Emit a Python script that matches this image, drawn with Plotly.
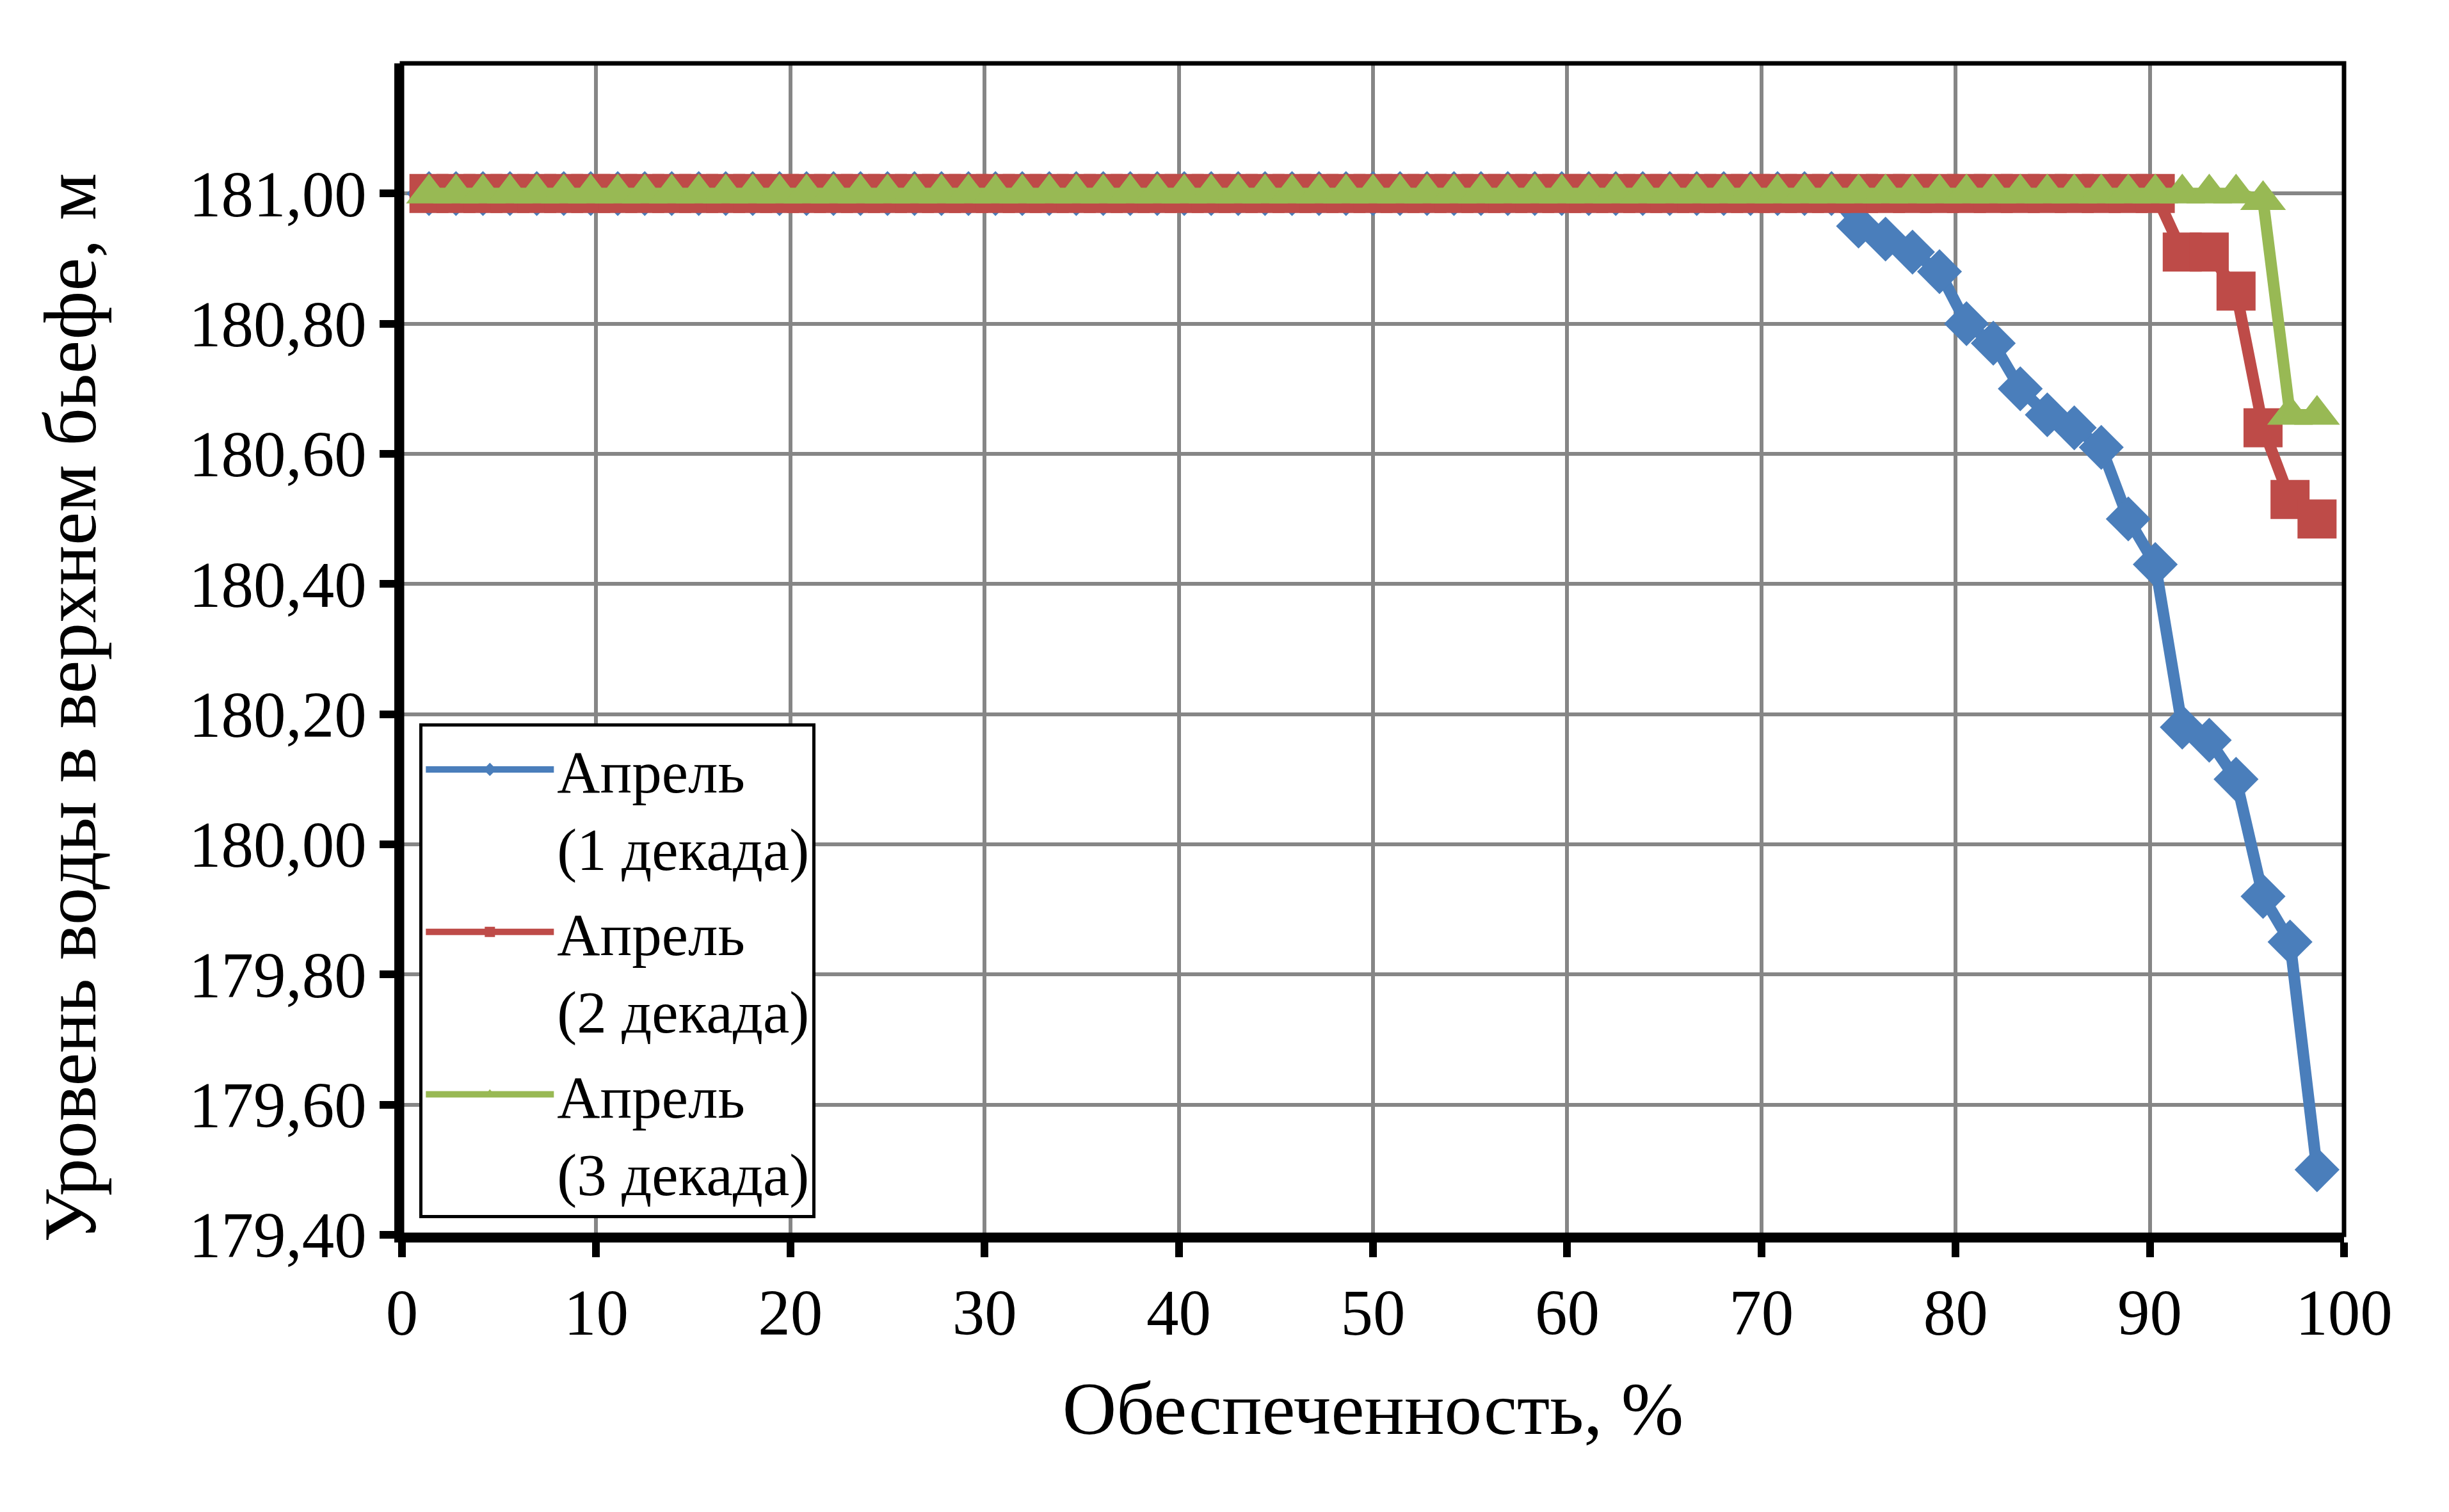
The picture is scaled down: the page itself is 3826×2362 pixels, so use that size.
import plotly.graph_objects as go


# обеспеченность, % (71 year, P = m / (n + 1))
PROBABILITY = [
    1.39, 2.78, 4.17, 5.56, 6.94, 8.33, 9.72, 11.11, 12.50, 13.89,
    15.28, 16.67, 18.06, 19.44, 20.83, 22.22, 23.61, 25.00, 26.39, 27.78,
    29.17, 30.56, 31.94, 33.33, 34.72, 36.11, 37.50, 38.89, 40.28, 41.67,
    43.06, 44.44, 45.83, 47.22, 48.61, 50.00, 51.39, 52.78, 54.17, 55.56,
    56.94, 58.33, 59.72, 61.11, 62.50, 63.89, 65.28, 66.67, 68.06, 69.44,
    70.83, 72.22, 73.61, 75.00, 76.39, 77.78, 79.17, 80.56, 81.94, 83.33,
    84.72, 86.11, 87.50, 88.89, 90.28, 91.67, 93.06, 94.44, 95.83, 97.22,
    98.61,
]

APRIL_1 = [
    181.00, 181.00, 181.00, 181.00, 181.00, 181.00, 181.00, 181.00, 181.00, 181.00,
    181.00, 181.00, 181.00, 181.00, 181.00, 181.00, 181.00, 181.00, 181.00, 181.00,
    181.00, 181.00, 181.00, 181.00, 181.00, 181.00, 181.00, 181.00, 181.00, 181.00,
    181.00, 181.00, 181.00, 181.00, 181.00, 181.00, 181.00, 181.00, 181.00, 181.00,
    181.00, 181.00, 181.00, 181.00, 181.00, 181.00, 181.00, 181.00, 181.00, 181.00,
    181.00, 181.00, 181.00, 180.95, 180.93, 180.91, 180.88, 180.80, 180.77, 180.70,
    180.66, 180.64, 180.61, 180.50, 180.43, 180.18, 180.16, 180.10, 179.92, 179.85,
    179.50,
]

APRIL_2 = [
    181.00, 181.00, 181.00, 181.00, 181.00, 181.00, 181.00, 181.00, 181.00, 181.00,
    181.00, 181.00, 181.00, 181.00, 181.00, 181.00, 181.00, 181.00, 181.00, 181.00,
    181.00, 181.00, 181.00, 181.00, 181.00, 181.00, 181.00, 181.00, 181.00, 181.00,
    181.00, 181.00, 181.00, 181.00, 181.00, 181.00, 181.00, 181.00, 181.00, 181.00,
    181.00, 181.00, 181.00, 181.00, 181.00, 181.00, 181.00, 181.00, 181.00, 181.00,
    181.00, 181.00, 181.00, 181.00, 181.00, 181.00, 181.00, 181.00, 181.00, 181.00,
    181.00, 181.00, 181.00, 181.00, 181.00, 180.91, 180.91, 180.85, 180.64, 180.53,
    180.50,
]

APRIL_3 = [
    181.00, 181.00, 181.00, 181.00, 181.00, 181.00, 181.00, 181.00, 181.00, 181.00,
    181.00, 181.00, 181.00, 181.00, 181.00, 181.00, 181.00, 181.00, 181.00, 181.00,
    181.00, 181.00, 181.00, 181.00, 181.00, 181.00, 181.00, 181.00, 181.00, 181.00,
    181.00, 181.00, 181.00, 181.00, 181.00, 181.00, 181.00, 181.00, 181.00, 181.00,
    181.00, 181.00, 181.00, 181.00, 181.00, 181.00, 181.00, 181.00, 181.00, 181.00,
    181.00, 181.00, 181.00, 181.00, 181.00, 181.00, 181.00, 181.00, 181.00, 181.00,
    181.00, 181.00, 181.00, 181.00, 181.00, 181.00, 181.00, 181.00, 180.99, 180.66,
    180.66,
]

SERIES_NAMES = [
    "Апрель<br>(1 декада)",
    "Апрель<br>(2 декада)",
    "Апрель<br>(3 декада)",
]

X_TICKS = [0, 10, 20, 30, 40, 50, 60, 70, 80, 90, 100]
Y_TICKS = [179.4, 179.6, 179.8, 180.0, 180.2, 180.4, 180.6, 180.8, 181.0]

FONT = "Liberation Serif, Times New Roman, serif"


def main():
    fig = go.Figure()

    styles = [
        ("#4A7EBB", "diamond", 54),
        ("#BE4B48", "square", 61),
        ("#98B954", "triangle-up", 62),
    ]

    for i, (values, name, (color, symbol, size)) in enumerate(zip(
        [APRIL_1, APRIL_2, APRIL_3], SERIES_NAMES, styles
    )):
        fig.add_trace(
            go.Scatter(
                x=PROBABILITY,
                y=values,
                mode="lines+markers",
                name=name,
                legendgroup=f"g{i}",
                line=dict(width=18, color=color),
                marker=dict(symbol=symbol, size=size, color=color),
                cliponaxis=False
            )
        )

    axis_common = dict(
        showgrid=True,
        gridcolor="#868686",
        gridwidth=6,
        showline=True,
        linecolor="black",
        linewidth=12,
        ticks="outside",
        ticklen=23,
        tickwidth=12,
        tickcolor="black",
        zeroline=False,
        tickfont=dict(family=FONT, size=101, color="black"),
    )

    fig.update_layout(
        width=3826,
        height=2362,
        separators=", ",
        paper_bgcolor="white",
        plot_bgcolor="white",
        font=dict(family=FONT, color="black"),
        margin=dict(l=620, r=172, t=91, b=441, autoexpand=False),
        xaxis=dict(
            range=[0, 100],
            tickmode="array",
            tickvals=X_TICKS,
            title=dict(
                text="Обеспеченность, %",
                font=dict(family=FONT, size=117, color="black"),
                standoff=57
            ),
            **axis_common
        ),
        yaxis=dict(
            range=[179.4, 181.2],
            tickmode="array",
            tickvals=Y_TICKS,
            tickformat=".2f",
            **axis_common
        ),
        annotations=[
            dict(
                text="Уровень воды в верхнем бьефе, м",
                xref="paper",
                yref="paper",
                x=-0.171,
                y=0.45,
                xanchor="center",
                yanchor="middle",
                textangle=-90,
                showarrow=False,
                font=dict(family=FONT, size=117, color="black")
            )
        ],
        legend=dict(
            x=0.009,
            y=0.4366,
            xanchor="left",
            yanchor="top",
            bgcolor="white",
            bordercolor="black",
            borderwidth=5,
            font=dict(family=FONT, size=93, color="black"),
            valign="top",
            itemwidth=200,
            tracegroupgap=9
        ),
        shapes=[
            dict(
                type="rect",
                xref="paper",
                yref="paper",
                x0=0,
                y0=0,
                x1=1,
                y1=1,
                line=dict(color="black", width=7),
                layer="above"
            )
        ]
    )

    fig.write_html("out.html")


if __name__ == "__main__":
    main()
